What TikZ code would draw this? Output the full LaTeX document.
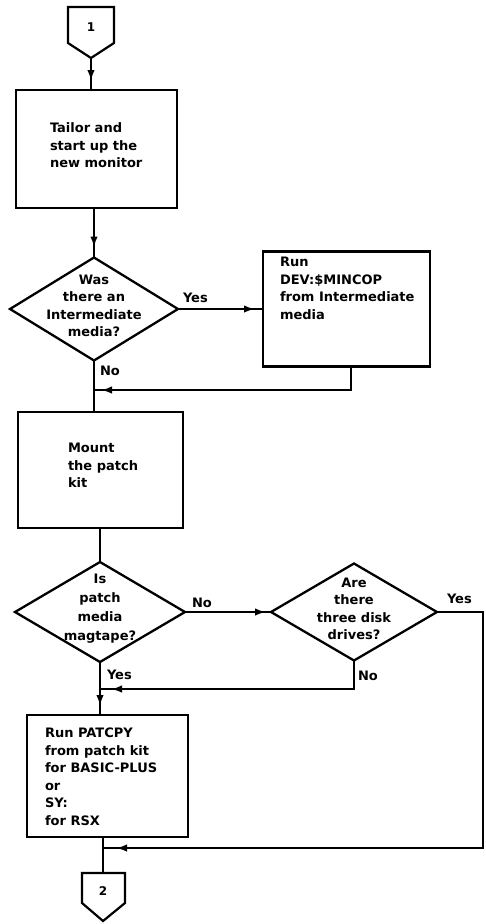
\documentclass[tikz,border=0pt]{standalone}
\usepackage{fontspec}
\setmainfont{DejaVu Sans}
\usetikzlibrary{shapes.geometric,arrows.meta,decorations.markings}
\begin{document}
\begin{tikzpicture}[x=1pt,y=-1pt,
  every node/.style={inner sep=0pt, outer sep=0pt},
  ln/.style={line width=2.2pt, line join=miter},
  box/.style={draw, rectangle, line width=2.4pt},
  dia/.style={draw, diamond, line width=2.3pt},
  txt/.style={font=\fontsize{13}{17.5}\selectfont\bfseries, align=left},
  dtxt/.style={font=\fontsize{13}{17.5}\selectfont\bfseries, align=center},
  lbl/.style={font=\fontsize{13}{17.5}\selectfont\bfseries},
  ctxt/.style={font=\fontsize{12}{14}\selectfont\bfseries},
  arrowat/.style={postaction={decorate}, decoration={markings,
     mark=at position #1 with {\arrow{Latex[length=11pt,width=7.5pt]}}}}
]
\useasboundingbox (0,0) rectangle (485,924);

% off-page connector 1
\node[ctxt] (c1) at (91,27) {1};
\draw[ln] (68,7) -- (114,7) -- (114,43) -- (91,58) -- (68,43) -- cycle;
\coordinate (c1p) at (91,58);

% boxes and decisions
\node[box, minimum width=161pt, minimum height=118pt] (b1) at (96.5,149) {};
\node[txt, anchor=west] (b1t) at ([xshift=34pt,yshift=3.5pt]b1.west) {Tailor and\\start up the\\new monitor};

\node[dia, minimum width=168pt, minimum height=103pt] (d1) at (94,309) {};
\node[dtxt] (d1t) at ([yshift=3pt]d1.center) {Was\\there an\\Intermediate\\media?};

\node[box, minimum width=167pt, minimum height=115pt] (rb) at (346.5,309) {};
\node[txt, anchor=north west] (rbt) at ([xshift=17pt,yshift=-6pt]rb.north west) {Run\\DEV:\$MINCOP\\from Intermediate\\media};

\node[box, minimum width=165pt, minimum height=116pt] (b2) at (100.5,470) {};
\node[txt, anchor=west] (b2t) at ([xshift=50pt,yshift=4.5pt]b2.west) {Mount\\the patch\\kit};

\node[dia, minimum width=170pt, minimum height=100pt] (d2) at (100,612) {};
\node[dtxt, font=\fontsize{13}{19}\selectfont\bfseries] (d2t) at ([yshift=3pt]d2.center) {Is\\patch\\media\\magtape?};

\node[dia, minimum width=166pt, minimum height=97pt] (d3) at (354,612) {};
\node[dtxt] (d3t) at ([yshift=3pt]d3.center) {Are\\there\\three disk\\drives?};

\node[box, minimum width=161pt, minimum height=122pt] (b3) at (107.5,776) {};
\node[txt, anchor=west] (b3t) at ([xshift=18pt,yshift=-1pt]b3.west) {Run PATCPY\\from patch kit\\for BASIC-PLUS\\or\\SY:\\for RSX};

% off-page connector 2
\node[ctxt] (c2) at (103,891) {2};
\draw[ln] (82,873) -- (125,873) -- (125,903) -- (103,921) -- (82,903) -- cycle;
\coordinate (c2t) at (103,873);

% junction points
\coordinate (j1) at (94,390);
\coordinate (j2) at (100,689);
\coordinate (j3) at (103,848);
\coordinate (rt) at (483,612);

% connectors
\draw[ln, arrowat=-9pt] (c1p) -- (c1p |- b1.north);
\draw[ln, arrowat=-10pt] (d1.north |- b1.south) -- (d1.north);
\draw[ln, arrowat=-8pt] (d1.east) -- (rb.west);
\draw[ln, arrowat=-7pt] ([xshift=4.5pt]rb.south) |- (j1);
\draw[ln] (d1.south) -- (d1.south |- b2.north);
\draw[ln] (d2.north |- b2.south) -- (d2.north);
\draw[ln, arrowat=-5pt] (d2.east) -- (d3.west);
\draw[ln, arrowat=-9pt] (d2.south) -- (d2.south |- b3.north);
\draw[ln, arrowat=-11pt] (d3.south) |- (j2);
\draw[ln, arrowat=-13pt] (d3.east) -- (rt) |- (j3);
\draw[ln] (c2t |- b3.south) -- (c2t);

% branch labels
\node[lbl, anchor=base west] (y1) at (183,302) {Yes};
\node[lbl, anchor=base west] (n1) at (100,375) {No};
\node[lbl, anchor=base west] (n2) at (192,607) {No};
\node[lbl, anchor=base west] (y3) at (447,603) {Yes};
\node[lbl, anchor=base west] (n3) at (358,680) {No};
\node[lbl, anchor=base west] (y2) at (107,679) {Yes};
\end{tikzpicture}
\end{document}
